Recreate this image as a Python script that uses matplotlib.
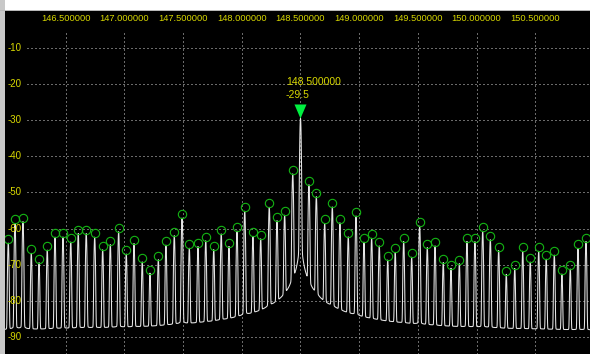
import numpy as np
import matplotlib
matplotlib.use("Agg")
import matplotlib.pyplot as plt
from matplotlib.path import Path
from matplotlib.patches import Rectangle
from matplotlib.transforms import ScaledTranslation

plt.rcParams['font.family'] = ['Liberation Sans', 'DejaVu Sans']
plt.rcParams['path.simplify'] = False

# Detected carriers: frequency (MHz) and peak level (dBm)
peak_freq_mhz = [
    146.011, 146.068, 146.136, 146.207, 146.273, 146.343, 146.409, 146.477,
    146.543, 146.607, 146.675, 146.747, 146.815, 146.880, 146.951, 147.016,
    147.082, 147.152, 147.218, 147.289, 147.354, 147.425, 147.491, 147.553,
    147.627, 147.693, 147.761, 147.825, 147.891, 147.959, 148.025, 148.095,
    148.161, 148.234, 148.300, 148.365, 148.434, 148.500, 148.572, 148.635,
    148.706, 148.771, 148.836, 148.907, 148.973, 149.041, 149.106, 149.171,
    149.243, 149.307, 149.379, 149.447, 149.515, 149.580, 149.646, 149.716,
    149.782, 149.853, 149.918, 149.986, 150.052, 150.117, 150.188, 150.253,
    150.325, 150.393, 150.457, 150.529, 150.593, 150.662, 150.727, 150.798,
    150.864, 150.932,
]
peak_level_db = [
    -64.0, -58.6, -58.1, -66.9, -69.5, -66.0, -62.4, -62.3,
    -63.7, -61.4, -61.4, -62.4, -65.9, -64.5, -60.9, -67.1,
    -64.2, -69.3, -72.5, -68.7, -64.6, -62.0, -57.1, -65.5,
    -65.0, -63.4, -65.9, -61.5, -65.0, -60.7, -55.2, -62.2,
    -62.9, -54.1, -57.8, -56.3, -44.9, -29.5, -47.9, -51.2,
    -58.6, -54.0, -58.4, -62.3, -56.5, -63.8, -62.7, -64.8,
    -68.8, -66.6, -63.6, -68.0, -59.3, -65.3, -64.8, -69.5,
    -71.1, -69.8, -63.6, -63.6, -60.7, -63.1, -66.1, -72.8,
    -71.1, -66.3, -69.3, -66.3, -68.5, -67.4, -72.7, -71.3,
    -65.5, -63.6,
]
marker_freq = 148.5
marker_level = -29.5
noise_floor_db = -89.0

x_ticks = [146.5, 147.0, 147.5, 148.0, 148.5, 149.0, 149.5, 150.0, 150.5]
y_ticks = [-10, -20, -30, -40, -50, -60, -70, -80, -90]

W, H = 590, 354
fig = plt.figure(figsize=(W / 100, H / 100), dpi=100, facecolor='white')
fig.patches.append(Rectangle((0, 0), 5 / W, 1, transform=fig.transFigure,
                             facecolor='#c8c8c8', edgecolor='none'))
fig.patches.append(Rectangle((0, 343 / H), 1, 1.5 / H, transform=fig.transFigure,
                             facecolor='#b8b8b8', edgecolor='none'))

ax = fig.add_axes([5 / W, 0, 585 / W, 343 / H])
ax.set_facecolor('black')
ax.set_xlim(145.983, 150.966)
ax.set_ylim(-94.7, 0.15)
ax.set_xticks([])
ax.set_yticks([])
for s in ax.spines.values():
    s.set_visible(False)

yellow = '#d8d800'
grid_kw = dict(color='#d4d4d4', lw=0.72, ls=(0, (1, 3)), zorder=1)

# dotted graticule, leaving room for the scale labels
gx = ax.get_xaxis_transform()
gy = ax.get_yaxis_transform()
for xt in x_ticks:
    ax.plot([xt, xt], [0, 0.945], transform=gx, **grid_kw)
    ax.text(xt, 0.977, f"{xt:.6f}", transform=gx, ha='center', va='center',
            color=yellow, fontsize=6.7)
for yt in y_ticks:
    ax.plot([0.038, 1], [yt, yt], transform=gy, **grid_kw)
    ax.text(0.005, yt, f"{yt}", transform=gy, ha='left', va='center',
            color=yellow, fontsize=7.0)

# swept trace: each carrier seen through the resolution filter plus its
# phase-noise skirt, summed in power on top of the noise floor
f = np.linspace(145.983, 150.966, 4000)
sigma = 0.0036
power = np.full_like(f, 10 ** (noise_floor_db / 10))
for f0, lv in zip(peak_freq_mhz, peak_level_db):
    d = f - f0
    core = np.exp(-0.5 * (d / sigma) ** 2)
    skirt = 10 ** (-4.65) * (0.085 / np.sqrt(d ** 2 + 0.01 ** 2)) ** 1.35
    power += 10 ** (lv / 10) * (core + skirt)
trace_db = 10 * np.log10(power)
ax.plot(f, trace_db, color='#e6e6e6', lw=0.75, zorder=2)

# peak markers (circles sit just above each peak tip)
others = [(fq, lv) for fq, lv in zip(peak_freq_mhz, peak_level_db) if fq != marker_freq]
lift = ax.transData + ScaledTranslation(0, 0.04, fig.dpi_scale_trans)
ax.plot([p[0] for p in others], [p[1] for p in others], 'o', ls='none',
        mfc='none', mec='#14b414', ms=6.0, mew=0.8, transform=lift, zorder=3)

# main marker: downward triangle whose tip touches the peak
tri = Path([(0, 0), (-6, 14), (6, 14), (0, 0)],
           [Path.MOVETO, Path.LINETO, Path.LINETO, Path.CLOSEPOLY])
ax.plot([marker_freq], [marker_level], marker=tri, ls='none', ms=20.2,
        mfc='#00f040', mec='none', zorder=4)
ax.annotate(f"{marker_freq:.6f}", xy=(marker_freq, marker_level),
            xytext=(-14 * 0.72, 36.5 * 0.72), textcoords='offset points',
            ha='left', va='center', color=yellow, fontsize=7.5)
ax.annotate(f"{marker_level}", xy=(marker_freq, marker_level),
            xytext=(-14.5 * 0.72, 23 * 0.72), textcoords='offset points',
            ha='left', va='center', color=yellow, fontsize=7.5)

fig.savefig('out.png', dpi=100, facecolor=fig.get_facecolor())
